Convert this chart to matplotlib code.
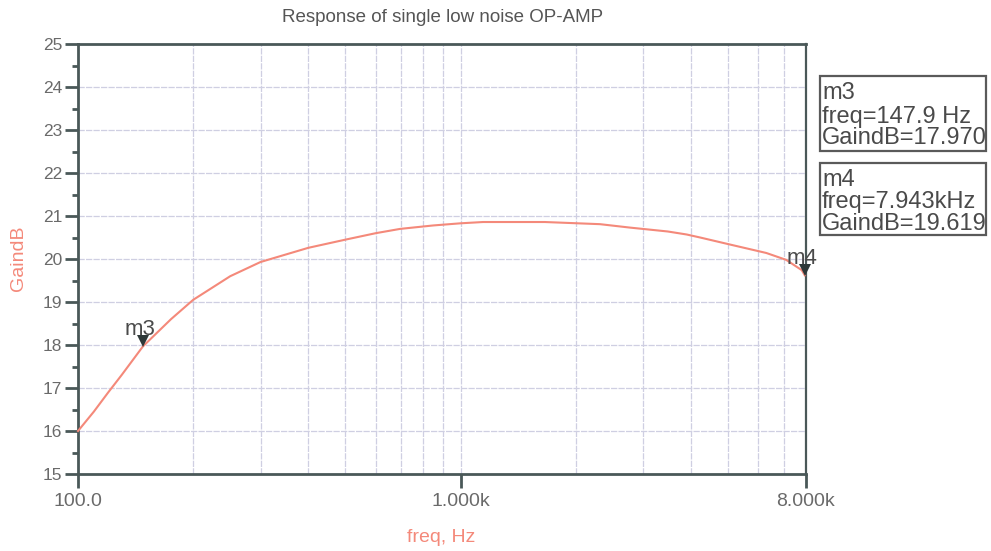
import matplotlib
matplotlib.use("Agg")
import matplotlib.pyplot as plt
from matplotlib.ticker import FixedLocator, NullFormatter, NullLocator
from matplotlib.transforms import offset_copy

plt.rcParams['font.family'] = ['Liberation Sans', 'DejaVu Sans']

freq_hz = [100, 110, 120, 130, 147.9, 175, 200, 250, 300, 400, 500, 600, 695, 848,
           1000, 1145, 1660, 2315, 2775, 3480, 3900, 4230, 5100, 6300, 7100, 7800, 7943]
gain_db = [16.0, 16.45, 16.9, 17.3, 17.97, 18.6, 19.05, 19.6, 19.93, 20.26, 20.45, 20.6,
           20.70, 20.78, 20.83, 20.86, 20.86, 20.81, 20.73, 20.64, 20.57, 20.50, 20.33,
           20.14, 19.98, 19.74, 19.62]

markers = ["m3", "m4"]
marker_freq = [147.9, 7943]
marker_gain = [17.970, 19.619]
marker_freq_text = ["147.9 Hz", "7.943kHz"]

x_ticks = [100, 1000, 8000]
x_tick_labels = ["100.0", "1.000k", "8.000k"]
y_ticks = list(range(15, 26))

curve_color = '#f4897a'
spine_color = '#4a5858'
grid_color = '#cfcfe2'
text_color = '#6a6a6a'
mark_text = '#4a4a4a'

fig = plt.figure(figsize=(9.91, 5.51), dpi=100)
ax = fig.add_axes([78/991, 1-474/551, 728/991, 430/551])
ax.set_xscale('log')
ax.set_xlim(100, 8000)
ax.set_ylim(15, 25)

# grid
minor_x = [m * d for d in (100, 1000) for m in range(1, 10)]
for xv in minor_x:
    if 100 < xv < 8000:
        ax.axvline(xv, color=grid_color, lw=0.9, ls=(0, (5, 1)), zorder=1)
for yv in y_ticks[1:-1]:
    ax.axhline(yv, color=grid_color, lw=0.9, ls=(0, (5, 1)), zorder=1)

ax.plot(freq_hz, gain_db, color=curve_color, lw=1.5, zorder=3, clip_on=False)

tip_tr = offset_copy(ax.transData, fig=fig, x=0, y=5, units='dots')
for name, f, g in zip(markers, marker_freq, marker_gain):
    ax.plot([f], [g], marker='v', color='#2e3838', ms=9, zorder=4, clip_on=False,
            markeredgewidth=0, transform=tip_tr)
    ax.annotate(name, (f, g), xytext=(-13, 8), textcoords='offset points',
                fontsize=16, color=mark_text, zorder=5)

for s in ax.spines.values():
    s.set_color(spine_color)
    s.set_linewidth(2.0)
ax.spines['right'].set_linewidth(1.6)

ax.xaxis.set_major_locator(FixedLocator(x_ticks))
ax.xaxis.set_minor_locator(NullLocator())
ax.set_xticklabels(x_tick_labels)
ax.tick_params(axis='x', which='major', direction='out', length=10, width=2,
               color=spine_color, labelsize=14, labelcolor=text_color, pad=4)

ax.yaxis.set_major_locator(FixedLocator(y_ticks))
ax.yaxis.set_minor_locator(FixedLocator([v + 0.5 for v in y_ticks[:-1]]))
ax.yaxis.set_minor_formatter(NullFormatter())
ax.tick_params(axis='y', which='major', direction='out', length=9.4, width=2,
               color=spine_color, labelsize=12.5, labelcolor=text_color, pad=2)
ax.tick_params(axis='y', which='minor', direction='out', length=4.5, width=2,
               color=spine_color)

fig.text(443/991, 1 - 18/551, "Response of single low noise OP-AMP", fontsize=13.5,
         color='#555555', ha='center', va='center')
fig.text(441/991, 1 - 538/551, "freq, Hz", fontsize=14, color=curve_color,
         ha='center', va='center')
fig.text(19/991, 1 - 258/551, "GaindB", fontsize=14, color=curve_color,
         ha='center', va='center', rotation=90)

# marker readout boxes
box_tops = [76, 163]
box_bottoms = [151, 235]
line_centers = [[93, 117, 138], [180, 202, 224]]
for top, bot, lines, name, ft, g in zip(box_tops, box_bottoms, line_centers, markers,
                                        marker_freq_text, marker_gain):
    rect = plt.Rectangle((820/991, 1 - bot/551), 166/991, (bot - top)/551,
                         transform=fig.transFigure, fill=False,
                         edgecolor='#5a5a5a', lw=1.6)
    fig.add_artist(rect)
    for yc, txt in zip(lines, [name, f"freq={ft}", f"GaindB={g:.3f}"]):
        fig.text(822/991, 1 - yc/551, txt, va='center', ha='left', fontsize=17,
                 color=mark_text)

fig.savefig("out.png", dpi=100)
